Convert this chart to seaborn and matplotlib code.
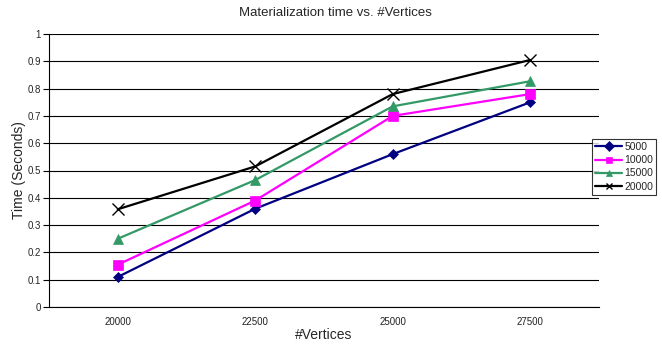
import matplotlib
matplotlib.use('Agg')
import matplotlib.pyplot as plt
import seaborn as sns
import pandas as pd

# --- data ---
vertices = ['20000', '22500', '25000', '27500']
series_names = ['5000', '10000', '15000', '20000']
t_5000 = [0.11, 0.36, 0.56, 0.75]
t_10000 = [0.155, 0.39, 0.70, 0.78]
t_15000 = [0.25, 0.465, 0.735, 0.827]
t_20000 = [0.358, 0.515, 0.78, 0.905]

colors = {'5000': '#000080', '10000': '#FF00FF', '15000': '#339966', '20000': '#000000'}
markers = {'5000': 'D', '10000': 's', '15000': '^', '20000': 'x'}
msizes = {'5000': 5, '10000': 7, '15000': 7, '20000': 9}

rows = []
for name, vals in zip(series_names, [t_5000, t_10000, t_15000, t_20000]):
    for i, v in enumerate(vals):
        rows.append({'pos': i, 'time': v, 'series': name})
df = pd.DataFrame(rows)

sns.set_style('white')
plt.rcParams['font.family'] = ['Liberation Sans', 'DejaVu Sans']

fig = plt.figure(figsize=(6.62, 3.46), dpi=100)
ax = fig.add_axes([49 / 662, 1 - 307 / 346, 550 / 662, 273 / 346])

for name in series_names:
    sub = df[df['series'] == name]
    sns.lineplot(data=sub, x='pos', y='time', ax=ax, color=colors[name],
                 marker=markers[name], markersize=msizes[name],
                 markeredgewidth=1.0 if name == '20000' else 0.5,
                 markeredgecolor=colors[name], linewidth=1.6, label=name)

ax.set_xlim(-0.5, 3.5)
ax.set_ylim(0, 1)
ax.set_yticks([i / 10 for i in range(11)])
ax.set_yticklabels(['0', '0.1', '0.2', '0.3', '0.4', '0.5', '0.6', '0.7', '0.8', '0.9', '1'])
ax.yaxis.grid(True, color='black', linewidth=0.8)
ax.set_axisbelow(True)

ax.set_xticks(range(4))
ax.set_xticklabels(vertices)
ax.set_xticks([-0.5, 0.5, 1.5, 2.5, 3.5], minor=True)
ax.tick_params(axis='x', which='major', length=0, labelsize=7, pad=7, colors='#222222')
ax.tick_params(axis='x', which='minor', length=4, width=0.8, direction='out', color='black')
ax.tick_params(axis='y', which='major', length=4, width=0.8, direction='out', labelsize=7,
               color='black', left=True, pad=2)

for side in ['top', 'right']:
    ax.spines[side].set_visible(False)
for side in ['left', 'bottom']:
    ax.spines[side].set_color('black')
    ax.spines[side].set_linewidth(0.8)

ax.set_xlabel('#Vertices', fontsize=10)
ax.set_ylabel('Time (Seconds)', fontsize=10)
ax.yaxis.set_label_coords(-23 / 550, 0.5)
fig.text(335 / 662, 1 - 13 / 346, 'Materialization time vs. #Vertices', ha='center', va='center', fontsize=9.5)
ax.xaxis.label.set_visible(False)
fig.text(324 / 662, 1 - 335 / 346, '#Vertices', ha='center', va='center', fontsize=10)

leg = ax.legend(loc='upper left', bbox_to_anchor=(592 / 662, 1 - 139 / 346),
                bbox_transform=fig.transFigure, fontsize=7.5, frameon=True, fancybox=False,
                handlelength=2.6, handletextpad=0.2, borderpad=0.3, labelspacing=0.3,
                borderaxespad=0)
leg.get_frame().set_edgecolor('black')
leg.get_frame().set_linewidth(0.8)
for h in leg.legend_handles:
    h.set_markersize(5)

fig.savefig('out.png', dpi=100)
